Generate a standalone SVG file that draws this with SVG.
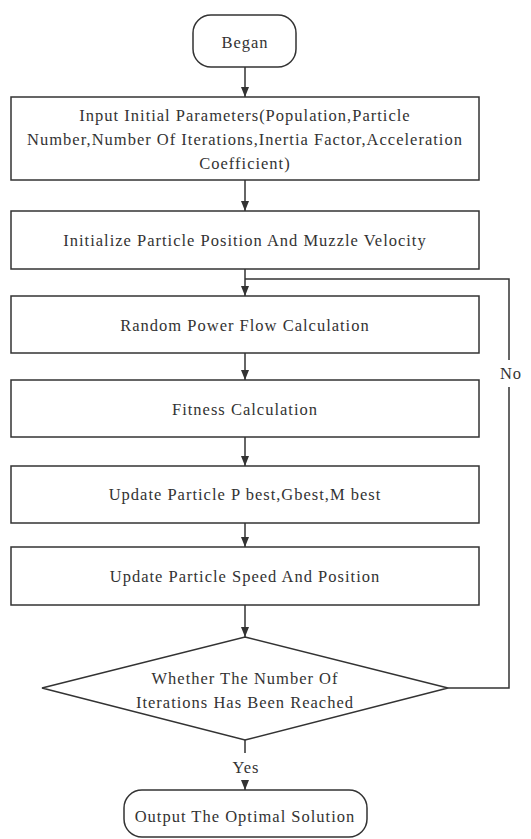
<svg xmlns="http://www.w3.org/2000/svg" width="531" height="839" viewBox="0 0 531 839">
<style>
.n{fill:#fff;stroke:#333;stroke-width:1.5}
.t{font-family:'Liberation Serif','Times New Roman',serif;font-size:16.5px;letter-spacing:1px;fill:#333;text-anchor:middle}
.c{fill:none;stroke:#333;stroke-width:1.5}
</style>
<defs>
<marker id="ah" viewBox="0 0 10 10" refX="10" refY="5" markerWidth="10" markerHeight="10" markerUnits="userSpaceOnUse" orient="auto">
<path d="M0,1 L10,5 L0,9 Z" fill="#333"/>
</marker>
</defs>
<rect width="531" height="839" fill="#fff"/>
<g id="connectors">
<path class="c" d="M245,67 V97" marker-end="url(#ah)"/>
<path class="c" d="M245,180 V211" marker-end="url(#ah)"/>
<path class="c" d="M245,269 V296" marker-end="url(#ah)"/>
<path class="c" d="M245,353 V380" marker-end="url(#ah)"/>
<path class="c" d="M245,437 V466" marker-end="url(#ah)"/>
<path class="c" d="M245,523 V547" marker-end="url(#ah)"/>
<path class="c" d="M245,605 V637" marker-end="url(#ah)"/>
<path class="c" d="M448,688 H509 V387 M509,360 V279 H245" />
<path class="c" d="M245,740 V753 M245,780 V790" marker-end="url(#ah)"/>
<text class="t" x="511" y="379">No</text>
<text class="t" x="246" y="773">Yes</text>
</g>
<g id="began">
<rect class="n" x="193" y="15" width="103" height="52" rx="18"/>
<text class="t" x="245" y="48">Began</text>
</g>
<g id="input">
<rect class="n" x="11" y="97" width="468" height="83"/>
<text class="t" x="245" y="121">Input Initial Parameters(Population,Particle</text>
<text class="t" x="245" y="145">Number,Number Of Iterations,Inertia Factor,Acceleration</text>
<text class="t" x="245" y="169">Coefficient)</text>
</g>
<g id="init">
<rect class="n" x="11" y="211" width="468" height="58"/>
<text class="t" x="245" y="246">Initialize Particle Position And Muzzle Velocity</text>
</g>
<g id="random">
<rect class="n" x="11" y="296" width="468" height="57"/>
<text class="t" x="245" y="331">Random Power Flow Calculation</text>
</g>
<g id="fitness">
<rect class="n" x="11" y="380" width="468" height="57"/>
<text class="t" x="245" y="415">Fitness Calculation</text>
</g>
<g id="updatebest">
<rect class="n" x="11" y="466" width="468" height="57"/>
<text class="t" x="245" y="500">Update Particle P best,Gbest,M best</text>
</g>
<g id="updatespeed">
<rect class="n" x="11" y="547" width="468" height="58"/>
<text class="t" x="245" y="582">Update Particle Speed And Position</text>
</g>
<g id="decision">
<polygon class="n" points="245,637 448,688 245,740 42,688"/>
<text class="t" x="245" y="684">Whether The Number Of</text>
<text class="t" x="245" y="708">Iterations Has Been Reached</text>
</g>
<g id="output">
<rect class="n" x="124" y="790" width="243" height="47" rx="18"/>
<text class="t" x="245" y="822">Output The Optimal Solution</text>
</g>
</svg>
